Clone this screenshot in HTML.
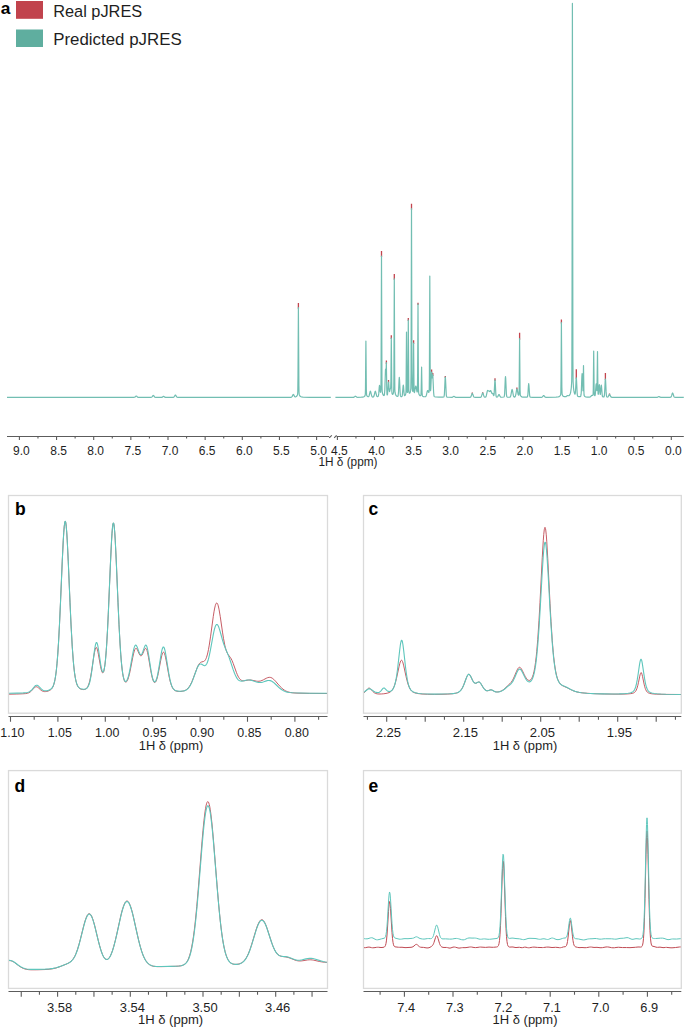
<!DOCTYPE html>
<html><head><meta charset="utf-8"><title>pJRES</title>
<style>html,body{margin:0;padding:0;background:#fff;}svg{display:block;}</style>
</head><body>
<svg width="685" height="1028" viewBox="0 0 685 1028" font-family='"Liberation Sans", sans-serif'><defs><clipPath id="cb"><rect x="9.1" y="496.1" width="317.8" height="216.50000000000006"/></clipPath><clipPath id="cc"><rect x="364.1" y="496.1" width="316.59999999999997" height="216.50000000000006"/></clipPath><clipPath id="cd"><rect x="9.1" y="771.2" width="317.8" height="216.59999999999997"/></clipPath><clipPath id="ce"><rect x="364.1" y="771.2" width="316.59999999999997" height="216.59999999999997"/></clipPath></defs><path d="M298.4,303V308.7 M381.5,251V257 M386.4,360.5V364 M388.5,380V383 M391.3,335.2V339 M394.3,273.9V279.8 M408.3,318V321 M411.5,203.7V209.7 M413.6,340.3V344 M418,302.8V305 M431.6,369.4V373 M432.8,373V376 M445.3,376V378 M472.3,392.6V394.5 M482.7,392.2V394 M495,378.3V381 M516.9,387.4V390 M519.6,332.8V339.7 M561.4,319.4V323.6 M576.3,369.2V378.8 M605.4,372.9V380 M609.5,393.4V395.5" fill="none" stroke="#c4444e" stroke-width="1.3" stroke-linecap="butt"/>
<path d="M7,397.4 133.5,397.39 134.73,397.26 135.31,396.85 135.98,396.13 136.3,396 136.7,396.2 137.55,397.08 138.27,397.35 150.5,397.39 151.73,397.19 152.31,396.62 152.98,395.59 153.3,395.4 153.7,395.69 154.55,396.94 155,397.26 155.5,397.36 161.63,397.36 162.35,397.17 163.2,396.54 163.6,396.4 164,396.54 164.85,397.17 165.5,397.36 172.66,397.38 173.5,397.3 174,397.02 175.08,395.22 175.4,395 175.72,395.22 176.5,396.64 176.97,397.15 178,397.38 288.38,397.35 290.8,397.29 291.5,397.15 292.05,396.64 292.9,394.83 293.3,394.4 293.62,394.64 294.57,396.49 295,396.84 295.78,396.8 296.41,396.46 296.86,396.01 297.43,394.9 297.63,394.07 297.78,391.75 298,375.53 298.4,307.7 298.89,385.42 299.02,391.75 299.17,394.07 299.37,394.9 299.94,396.02 300.5,396.56 301.5,396.97 303.06,397.2 309.5,397.36 330.8,397.38" fill="none" stroke="#72beb2" stroke-width="1.2" stroke-linejoin="round"/>
<path d="M335.4,397.38 353.4,397.32 354.15,397.09 355,396.37 355.4,396.2 355.8,396.36 356.65,397.07 357.3,397.28 361.4,397.22 362.9,397.06 363.9,396.76 364.52,396.32 365.02,395.58 365.2,395.07 365.35,393.63 365.48,388.22 365.9,341 366.34,389.67 366.6,395.05 367,395.94 367.54,396.5 368.08,396.74 368.64,396.62 369.15,395.69 370,392.04 370.2,391.42 370.4,391.2 370.72,391.77 371.4,394.87 371.9,396.43 372.4,396.97 372.82,397.06 373.3,396.96 373.73,396.54 374.05,395.78 374.98,391.77 375.32,391.2 375.64,391.8 376.7,395.99 376.9,396.34 377.27,396.62 377.78,396.6 378.05,396.45 378.41,395.78 378.72,393.9 379.25,387.1 379.5,385.4 379.72,386.24 380.28,391.69 380.48,392.29 380.64,392.1 380.9,389.41 381.06,377.86 381.5,256 381.94,377.9 382.07,388.36 382.2,391.37 382.4,392.76 382.88,394.42 383.5,395.37 383.9,395.57 384.1,395.52 384.46,394.52 384.82,389.66 385.47,370.11 385.6,369 385.7,369.48 385.96,373.27 386.05,372.92 386.35,362.62 386.75,387.89 386.97,394.15 387.1,394.85 387.27,394.97 387.56,394.01 388.3,383.35 388.5,382 388.7,383.07 389.15,389.57 389.41,391.49 389.56,391.62 389.67,391.38 390.24,388.92 390.65,388.04 390.9,381.24 391.3,338 391.84,391.49 392,393.34 392.18,393.96 392.56,394.39 392.88,394.23 393.2,393.66 393.6,391.96 393.8,386.07 393.9,375.08 394.3,278.8 394.7,375.32 394.85,389.2 395,392.22 395.44,394.25 395.7,394.91 396.23,395.71 396.85,396.17 397.5,396.34 397.9,396.2 398.13,395.68 398.52,392.06 399.05,380.07 399.3,377.4 399.55,380.09 400.16,393.25 400.4,395.44 400.6,396.18 400.96,396.53 401.75,396.53 402.1,396.17 402.32,395.39 403.1,386.08 403.3,385 403.5,386.01 403.97,392.33 404.32,395.08 404.53,395.6 404.7,395.68 404.9,395.58 405.4,394.91 405.8,393.77 405.95,392.08 406.12,382.95 406.5,332 406.96,387.82 407.16,392.17 407.38,392.46 407.6,392.03 407.75,390.27 407.9,381.48 408.3,320 408.8,388.65 408.93,391.79 409.18,392.91 409.4,393.19 409.68,393.21 410.12,392.55 410.62,390.38 410.83,388.21 411.04,373.35 411.5,208.7 411.94,371.05 412.2,388.39 412.5,390.55 412.88,391.49 413.05,390.58 413.24,381.88 413.6,343 413.95,381.55 414.15,391.5 414.3,392.54 414.4,392.56 414.55,392.25 415.48,386.84 415.8,386 416.12,386.81 416.94,391.59 417.12,392.02 417.3,391.88 417.4,390.93 417.65,372.19 418,304 418.4,379.73 418.5,388.42 418.7,393.07 419.17,394.71 419.84,395.58 420.18,395.73 420.7,395.61 420.98,394.74 421.2,389.19 421.6,367 421.99,389.11 422.09,392.86 422.33,395.64 422.68,396.16 423.53,396.6 424.84,396.75 425.63,396.57 426.03,396.14 426.35,395.37 427.28,391.24 427.6,390.5 427.74,390.48 427.9,390.67 428.42,392 428.7,392.4 428.94,392.22 429.1,391.52 429.25,388.64 429.4,374.5 429.8,276 430.15,365.12 430.4,389.56 430.5,390.64 430.62,390.46 430.82,388.33 431.4,374.27 431.6,372 431.76,372.65 432.22,377.87 432.38,377.4 432.67,375.01 432.7,374.92 432.8,375 432.83,375.19 433.6,392.01 433.9,395.32 434.13,396.23 434.35,396.54 434.9,396.81 435.87,397.01 438.9,397.2 442.85,397.16 443.7,396.99 443.9,396.81 444.14,396.15 444.4,394.12 445.1,378.82 445.3,377 445.5,378.83 446.28,395 446.53,396.46 446.8,396.94 447.25,397.12 448.98,397.27 451.93,397.3 452.65,397.1 453.5,396.45 453.9,396.3 454.3,396.45 455.15,397.11 455.9,397.32 469.9,397.33 470.44,397.2 470.9,396.75 471.98,393.86 472.3,393.5 472.7,394.06 473.6,396.57 473.9,397.01 474.27,397.24 475.41,397.35 480.34,397.31 480.9,397.13 481.32,396.63 482.38,393.41 482.7,393 483.02,393.4 484.08,396.6 484.56,397.12 485.18,397.22 485.78,396.9 486.25,395.9 487.25,391.29 487.5,390.6 487.75,390.41 488.37,390.81 489,391 489.71,391.62 489.98,391.44 490.46,390.67 490.7,390.6 490.97,391.06 491.69,393.17 491.95,393.39 492.44,393.26 492.67,393.36 493.45,395.17 493.77,395.57 494.02,394.78 494.17,393.42 494.8,381.53 495,380 495.25,382.4 495.78,393.12 495.98,395.33 496.23,396.57 496.4,396.88 496.7,397.06 497.45,396.92 497.9,396.37 498.68,394.75 499,394.5 499.32,394.77 500.25,396.66 500.65,397.07 501.1,397.23 501.9,397.26 503.9,397.01 504.34,396.19 504.63,393.71 505.3,378.4 505.5,376.5 505.7,378.37 506.4,394.06 506.73,396.44 506.9,396.82 507.45,397.11 509.14,397.23 509.9,397.15 510.35,396.81 510.85,395.51 511.7,390.62 511.9,389.8 512.1,389.5 512.42,390.23 513.4,395.67 513.67,396.45 514.07,396.97 514.42,397.08 514.9,396.95 515.4,396.19 515.9,394.06 516.58,389.81 516.9,389 517.22,389.66 518.15,394.55 518.4,395.11 518.72,395.15 518.9,394.79 519,394.06 519.16,389.29 519.6,338.7 520.04,389.38 520.3,394.98 520.7,395.93 521.4,396.64 521.9,396.88 522.9,397.1 526.25,397.21 527.15,397.08 527.4,396.86 527.72,395.76 527.9,394.23 528.45,385.58 528.7,383.7 528.95,385.58 529.56,394.85 529.9,396.68 530.25,397.11 532.9,397.32 541.73,397.29 542.4,396.97 543.3,395.77 543.7,395.5 544.1,395.76 544.95,396.92 545.4,397.21 545.9,397.31 555.96,397.19 557.95,397 559.22,396.62 560.02,395.92 560.52,394.94 560.7,394.25 560.85,392.35 561.05,377.78 561.4,322.6 561.84,387.09 562.1,394.21 562.4,395.18 562.9,395.98 563.58,396.48 564.4,396.7 565.9,396.66 566.4,396.39 567.4,395.54 567.75,395.48 568.75,395.71 569.07,395.58 569.66,394.98 570.2,393.9 570.61,392.51 571.3,387.82 571.7,381.53 571.85,371.48 572.05,294.62 572.4,3.4 572.9,361.63 573.1,381.49 573.5,387.75 573.85,390.65 574.26,392.66 574.58,393.64 574.9,394.15 575.14,393.97 575.32,393.16 575.68,388.28 576.1,379.32 576.3,377.8 576.55,380.45 577.1,392.29 577.3,394.56 577.53,395.78 577.9,396.34 578.9,396.63 580.2,396.61 580.55,396.46 580.76,396.18 581.12,394.19 581.32,391.26 581.85,376.79 582.1,373.5 582.3,375.46 582.95,390.67 583.15,387.04 583.5,365.5 583.9,391.19 584.04,394.68 584.2,395.73 584.88,396.51 585.68,396.85 587.2,397.06 589.4,397.07 590.34,396.85 591.67,395.47 592,395.35 592.6,395.36 592.82,395.25 593,394.97 593.17,393.49 593.3,388.34 593.7,351.1 594.14,390.75 594.3,394.5 594.45,395.22 594.76,395.58 594.91,395.57 595.08,395.31 595.32,394.18 596,385.02 596.2,383.8 596.4,384.74 596.85,390.47 596.9,390.72 596.98,390.42 597.5,351.5 597.85,384.97 598.07,393.74 598.23,394.39 598.52,392.97 599.05,386.03 599.3,384.5 599.5,385.65 600.07,393.37 600.24,394.38 600.32,394.45 600.4,394.29 601.1,386.22 601.3,385.2 601.5,386.29 602.28,395.73 602.53,396.58 602.85,396.88 603.45,396.94 603.9,396.82 604.17,396.42 604.37,395.46 604.62,392.79 605.2,380.63 605.4,379 605.6,380.65 606.1,391.38 606.38,395.19 606.63,396.5 606.9,396.93 607.2,397.05 607.85,396.96 608.25,396.59 609.1,394.89 609.5,394.5 609.82,394.77 610.9,396.87 611.4,397.21 611.98,397.31 656.42,397.38 657.4,397.28 658.9,396.5 659.3,396.63 660.15,397.19 660.9,397.37 670.12,397.35 670.63,397.25 671.16,396.76 671.61,395.68 672.28,393.41 672.6,393 673,393.63 673.9,396.5 674.17,396.95 674.57,397.25 675.71,397.37 683.8,397.39" fill="none" stroke="#72beb2" stroke-width="1.2" stroke-linejoin="round"/>
<rect x="16" y="1" width="27" height="17.8" fill="#c1434d"/>
<rect x="16" y="29.5" width="27" height="17.5" fill="#5fae9f"/>
<text x="0.7" y="13.6" font-size="17.3" font-weight="bold" fill="#000">a</text>
<text x="53.2" y="16.5" font-size="16.9" fill="#1e1e1e" textLength="89.0" lengthAdjust="spacingAndGlyphs">Real pJRES</text>
<text x="53.2" y="44.8" font-size="16.2" fill="#1e1e1e" textLength="128.5" lengthAdjust="spacingAndGlyphs">Predicted pJRES</text>
<path d="M7,436.5H329.2 M336.6,436.5H683.8" stroke="#5c5c5c" stroke-width="1.1" fill="none"/>
<path d="M329.2,437.9L331.8,435.3 M334.2,437.8L336.6,435.3" stroke="#5c5c5c" stroke-width="1.1" fill="none"/>
<path d="M19.4,436.5V440.1 M37.97,436.5V438.5 M56.55,436.5V440.1 M75.12,436.5V438.5 M93.7,436.5V440.1 M112.28,436.5V438.5 M130.85,436.5V440.1 M149.43,436.5V438.5 M168,436.5V440.1 M186.57,436.5V438.5 M205.15,436.5V440.1 M223.72,436.5V438.5 M242.3,436.5V440.1 M260.88,436.5V438.5 M279.45,436.5V440.1 M298.02,436.5V438.5 M316.6,436.5V440.1 M337.4,436.5V440.1 M355.95,436.5V438.5 M374.5,436.5V440.1 M393.05,436.5V438.5 M411.6,436.5V440.1 M430.15,436.5V438.5 M448.7,436.5V440.1 M467.25,436.5V438.5 M485.8,436.5V440.1 M504.35,436.5V438.5 M522.9,436.5V440.1 M541.45,436.5V438.5 M560,436.5V440.1 M578.55,436.5V438.5 M597.1,436.5V440.1 M615.65,436.5V438.5 M634.2,436.5V440.1 M652.75,436.5V438.5 M671.3,436.5V440.1" stroke="#5c5c5c" stroke-width="1.1" fill="none"/>
<text x="21.4" y="454.7" font-size="12" fill="#1e1e1e" text-anchor="middle">9.0</text>
<text x="58.55" y="454.7" font-size="12" fill="#1e1e1e" text-anchor="middle">8.5</text>
<text x="95.7" y="454.7" font-size="12" fill="#1e1e1e" text-anchor="middle">8.0</text>
<text x="132.85" y="454.7" font-size="12" fill="#1e1e1e" text-anchor="middle">7.5</text>
<text x="170" y="454.7" font-size="12" fill="#1e1e1e" text-anchor="middle">7.0</text>
<text x="207.15" y="454.7" font-size="12" fill="#1e1e1e" text-anchor="middle">6.5</text>
<text x="244.3" y="454.7" font-size="12" fill="#1e1e1e" text-anchor="middle">6.0</text>
<text x="281.45" y="454.7" font-size="12" fill="#1e1e1e" text-anchor="middle">5.5</text>
<text x="318.6" y="454.7" font-size="12" fill="#1e1e1e" text-anchor="middle">5.0</text>
<text x="339.4" y="454.7" font-size="12" fill="#1e1e1e" text-anchor="middle">4.5</text>
<text x="376.5" y="454.7" font-size="12" fill="#1e1e1e" text-anchor="middle">4.0</text>
<text x="413.6" y="454.7" font-size="12" fill="#1e1e1e" text-anchor="middle">3.5</text>
<text x="450.7" y="454.7" font-size="12" fill="#1e1e1e" text-anchor="middle">3.0</text>
<text x="487.8" y="454.7" font-size="12" fill="#1e1e1e" text-anchor="middle">2.5</text>
<text x="524.9" y="454.7" font-size="12" fill="#1e1e1e" text-anchor="middle">2.0</text>
<text x="562" y="454.7" font-size="12" fill="#1e1e1e" text-anchor="middle">1.5</text>
<text x="599.1" y="454.7" font-size="12" fill="#1e1e1e" text-anchor="middle">1.0</text>
<text x="636.2" y="454.7" font-size="12" fill="#1e1e1e" text-anchor="middle">0.5</text>
<text x="673.3" y="454.7" font-size="12" fill="#1e1e1e" text-anchor="middle">0.0</text>
<text x="348" y="466.0" font-size="12" fill="#1e1e1e" text-anchor="middle" textLength="59" lengthAdjust="spacingAndGlyphs">1H δ (ppm)</text>
<rect x="8.5" y="495.5" width="319" height="217.7" fill="none" stroke="#dadada" stroke-width="1.3"/><text x="15.1" y="515.2" font-size="17.5" font-weight="bold" fill="#000">b</text>
<rect x="363.5" y="495.5" width="317.8" height="217.7" fill="none" stroke="#dadada" stroke-width="1.3"/><text x="368.6" y="515.4" font-size="17.5" font-weight="bold" fill="#000">c</text>
<rect x="8.5" y="770.6" width="319" height="217.8" fill="none" stroke="#dadada" stroke-width="1.3"/><text x="14.6" y="791.8" font-size="17.5" font-weight="bold" fill="#000">d</text>
<rect x="363.5" y="770.6" width="317.8" height="217.8" fill="none" stroke="#dadada" stroke-width="1.3"/><text x="368.6" y="792.0" font-size="17.5" font-weight="bold" fill="#000">e</text>
<g clip-path="url(#cb)"><path d="M8.5,694.21 16.75,694.03 22.75,693.8 25.5,693.6 27.5,693.25 28.25,693.02 29,692.7 30.25,691.94 31.5,690.84 33.75,688.35 34.5,687.61 35,687.21 35.5,686.92 36.25,686.74 37,686.88 37.75,687.29 38.5,687.9 40.75,689.99 41.75,690.72 42.5,691.12 43.5,691.46 44.5,691.6 45.5,691.58 46.75,691.4 48,691.08 49.25,690.59 50.25,690.04 51.25,689.23 52,688.35 52.5,687.59 53.25,686.05 53.75,684.69 54.5,681.98 55,679.61 55.5,676.68 56,673.12 56.5,668.82 57,663.7 57.75,654.33 58.5,642.8 59.5,624.11 60.5,602.24 62.25,561.2 63.25,540.68 63.75,532.55 64.25,526.39 64.75,522.55 65,521.58 65.25,521.26 65.5,521.6 65.75,522.6 66.25,526.49 66.75,532.69 67.25,540.85 68.25,561.38 70,602.31 71,624.07 72.25,646.69 73.25,660.47 73.75,665.96 74.5,672.61 75.25,677.62 76,681.29 76.75,683.91 77.5,685.75 78,686.66 78.5,687.37 79,687.92 79.75,688.53 80.25,688.83 81,689.16 81.75,689.38 82.5,689.51 83.25,689.57 84,689.54 84.75,689.41 85.25,689.24 85.75,688.99 86.25,688.64 87,687.87 87.75,686.71 88.5,685.05 89.25,682.78 89.75,680.88 90.75,676.11 91.75,670.15 93.75,656.69 94.5,652.33 95.25,649.14 95.75,647.91 96,647.59 96.25,647.49 96.5,647.6 96.75,647.92 97.25,649.13 97.75,651.03 98.5,654.8 100.5,666.29 101.25,669.7 101.75,671.37 102.25,672.45 102.5,672.74 102.75,672.85 103,672.77 103.25,672.49 103.5,672.01 103.75,671.31 104.25,669.22 105,664.26 105.5,659.65 106.25,650.66 106.75,643.26 107.5,630.11 108.25,614.76 110.5,562.2 111.5,541.51 112,533.41 112.5,527.4 112.75,525.31 113,523.86 113.25,523.09 113.5,523.01 113.75,523.61 114,524.9 114.25,526.85 114.75,532.58 115.25,540.47 116.25,560.91 118,602.39 119,624.44 120,643.08 120.75,654.4 121.25,660.67 121.75,665.95 122.25,670.32 122.75,673.86 123.25,676.65 124,679.62 124.5,680.92 124.75,681.38 125.25,681.99 125.5,682.14 125.75,682.19 126,682.16 126.25,682.04 126.75,681.55 127.5,680.24 128,679.01 128.5,677.49 129.25,674.74 130,671.48 132.75,657.37 133.5,653.88 134.25,651.05 134.75,649.66 135,649.14 135.25,648.73 135.5,648.44 135.75,648.28 136,648.23 136.25,648.3 136.75,648.74 137.5,650.02 139,653.46 139.75,654.88 140.25,655.51 140.5,655.7 140.75,655.81 141,655.83 141.25,655.77 141.5,655.61 142,655.05 142.75,653.68 144.25,650.13 144.75,649.16 145.25,648.54 145.5,648.39 145.75,648.37 146,648.5 146.25,648.76 146.5,649.18 147,650.46 147.5,652.29 148.5,657.26 150.75,670.6 151.75,675.67 152.5,678.66 153,680.2 153.5,681.36 154,682.12 154.25,682.36 154.5,682.49 154.75,682.52 155,682.46 155.25,682.3 155.5,682.04 156,681.24 156.75,679.35 157.5,676.71 158.25,673.41 160.75,660.2 161.75,655.64 162.25,653.94 162.75,652.77 163,652.41 163.25,652.2 163.5,652.16 163.75,652.27 164,652.55 164.5,653.57 165,655.15 165.5,657.19 166.25,660.91 168.75,674.81 169.5,678.44 170.25,681.56 170.75,683.35 171.5,685.57 172,686.78 172.75,688.21 173.25,688.95 173.75,689.55 174.25,690.02 175,690.55 175.75,690.9 176.5,691.14 178.25,691.41 179.5,691.45 181,691.4 182.25,691.25 183.25,691.05 184.25,690.76 185.25,690.34 186.25,689.75 187,689.19 188.25,687.94 189.25,686.63 190.25,685.01 191.25,683.07 192,681.41 193,678.96 197,668.17 198,665.91 198.75,664.52 199.25,663.76 199.75,663.14 200.25,662.66 200.75,662.31 201.5,661.98 203.5,661.51 204,661.28 204.5,660.91 205,660.36 205.5,659.62 206,658.63 206.5,657.37 207.25,654.95 207.75,652.95 208.5,649.38 209.25,645.15 210.5,636.86 213.25,616.61 214,611.78 214.5,609 215.25,605.7 215.75,604.17 216.25,603.25 216.5,603.03 216.75,602.97 217,603.07 217.25,603.32 217.75,604.3 218.25,605.87 219,609.18 220.25,616.59 222.5,632.1 223.5,638.43 224.75,645.02 225.25,647.16 226,649.85 226.75,651.94 227.5,653.53 228.25,654.73 230.5,657.7 231.25,658.95 232,660.47 233.25,663.56 236.5,672.65 237.25,674.48 238,676.09 238.75,677.46 239.25,678.23 240,679.17 240.75,679.87 241.75,680.47 242.25,680.64 243,680.78 243.75,680.79 244.5,680.72 248.25,680.06 250,679.99 252,680.22 256.5,681.16 257.75,681.28 259,681.25 260.5,680.98 262,680.47 263.5,679.75 266.25,678.27 267.75,677.63 269,677.35 269.75,677.33 270.25,677.38 271,677.58 272,678.04 272.75,678.54 273.75,679.36 275.5,681.16 278.75,684.96 280.25,686.62 281.75,688.1 283,689.16 284.25,690.07 285.75,690.94 287.25,691.6 288.75,692.1 290.5,692.5 292.5,692.79 295,693.01 298,693.16 309.25,693.39 327.5,693.53" fill="none" stroke="#bf4a53" stroke-width="0.9" stroke-linejoin="round"/><path d="M8.5,693.31 17.25,693.13 23.25,692.92 26,692.71 27,692.55 28,692.31 28.75,692.04 29.5,691.67 30.75,690.78 32,689.54 34.75,686.27 35.25,685.82 35.75,685.47 36.5,685.21 37.25,685.3 37.75,685.53 38.25,685.89 39,686.58 41.25,688.92 42.25,689.74 43,690.19 44,690.58 45,690.76 46,690.77 47.25,690.6 48.5,690.27 49.5,689.88 50.5,689.31 51.25,688.72 52,687.89 52.5,687.15 53.25,685.67 53.75,684.35 54.5,681.71 55,679.38 55.5,676.51 56,673 56.5,668.74 57,663.67 57.75,654.35 58.5,642.86 59.5,624.17 60.5,602.28 62.25,561.17 63.25,540.64 63.75,532.5 64.25,526.35 64.75,522.51 65,521.54 65.25,521.23 65.5,521.57 65.75,522.56 66.25,526.45 66.75,532.64 67.25,540.79 68.25,561.34 70,602.36 71,624.16 72.25,646.78 73.25,660.52 73.75,665.97 74.5,672.57 75.25,677.51 76,681.12 76.75,683.69 77.5,685.48 78,686.36 78.5,687.04 79,687.57 79.75,688.16 80.25,688.44 81,688.76 81.75,688.98 82.75,689.15 83.75,689.21 84.5,689.17 85.25,689.04 85.75,688.87 86.25,688.63 86.75,688.29 87.5,687.51 88.25,686.32 89,684.56 89.5,682.99 90,681.07 91,676.05 92,669.49 94,653.85 94.75,648.58 95.5,644.63 96,643.06 96.25,642.64 96.5,642.48 96.75,642.58 97,642.94 97.25,643.54 97.75,645.41 98.5,649.54 100.75,664.75 101.5,668.65 102,670.51 102.5,671.66 102.75,671.94 103,672.02 103.25,671.88 103.5,671.51 103.75,670.92 104.25,669 104.75,666.07 105,664.21 105.5,659.66 106,653.98 106.75,643.32 107.5,630.17 108.25,614.79 110.5,562.14 111.5,541.46 112,533.38 112.5,527.39 112.75,525.3 113,523.85 113.25,523.09 113.5,523.01 113.75,523.61 114,524.9 114.25,526.84 114.75,532.56 115.25,540.43 116.25,560.86 118,602.39 119,624.47 120,643.11 120.75,654.41 121.25,660.64 121.75,665.89 122.25,670.21 122.75,673.69 123.25,676.41 123.75,678.47 124.25,679.94 124.5,680.47 125,681.19 125.25,681.38 125.5,681.47 125.75,681.46 126,681.36 126.5,680.89 126.75,680.53 127.25,679.56 127.75,678.27 128.25,676.68 129,673.77 130,669.03 132.5,655.1 133.25,651.31 133.75,649.15 134.25,647.39 134.75,646.1 135,645.64 135.25,645.33 135.5,645.14 135.75,645.09 136,645.16 136.5,645.67 137.25,647.17 138.75,651.34 139.5,653.18 140,654.07 140.25,654.38 140.5,654.6 140.75,654.71 141,654.72 141.25,654.63 141.5,654.43 141.75,654.13 142.25,653.24 142.75,652.04 144.25,647.61 144.75,646.34 145.25,645.45 145.5,645.19 145.75,645.07 146,645.11 146.25,645.31 146.5,645.69 146.75,646.23 147.25,647.82 147.75,650.01 148.75,655.72 151,670.31 151.75,674.4 152.5,677.69 153.25,680.08 153.75,681.13 154,681.49 154.25,681.74 154.5,681.88 154.75,681.91 155,681.84 155.25,681.65 155.75,680.96 156.25,679.84 156.75,678.31 157.5,675.31 158.75,668.7 161,654.83 161.5,652.17 162,649.93 162.5,648.25 162.75,647.66 163,647.24 163.25,647.01 163.5,646.97 163.75,647.11 164,647.45 164.25,647.97 164.75,649.52 165.25,651.66 166.25,657.27 168.75,673.2 170,679.65 170.5,681.75 171.25,684.35 171.75,685.76 172.5,687.42 173,688.28 173.5,688.96 174,689.5 174.5,689.93 175,690.25 175.75,690.61 177.25,691 178.5,691.15 180,691.21 181.5,691.17 182.75,691.05 183.75,690.88 184.75,690.6 185.75,690.2 186.5,689.78 187.75,688.82 188.75,687.74 190,685.94 191,684.11 192,681.92 193,679.42 195.75,671.71 196.75,669.07 197.75,666.83 198.25,665.92 198.75,665.18 199.25,664.62 199.75,664.25 200.25,664.05 200.75,664.01 201.25,664.12 201.75,664.33 203.75,665.49 204.5,665.67 205,665.61 205.5,665.36 206,664.9 206.5,664.2 207,663.25 207.5,662.04 208.25,659.72 208.75,657.85 209.5,654.61 210.5,649.62 213.25,634.58 214,631.03 214.5,629 215.25,626.58 215.75,625.45 216.25,624.73 216.5,624.53 216.75,624.44 217,624.45 217.25,624.56 217.5,624.77 218,625.47 218.5,626.49 219,627.79 220,630.98 222.5,640.02 223.75,644.02 225,647.42 227.75,653.87 229,657.09 230.25,660.7 233,669.15 234.5,673.26 235.75,676.1 236.75,677.9 237.25,678.63 238,679.54 238.5,680.02 239.25,680.56 239.75,680.81 240.5,681.05 241.75,681.15 243,680.99 247,680.07 248.5,679.93 249.75,679.99 250.75,680.14 252,680.44 255.75,681.72 257.25,682.16 258.75,682.44 260,682.51 261.25,682.42 262.5,682.18 263.75,681.82 266.5,680.88 267.75,680.57 269,680.46 270.25,680.62 271,680.86 271.75,681.21 273.25,682.2 274.75,683.49 279.25,687.8 280.75,689.03 282.25,690.06 283.75,690.89 285.5,691.6 287.25,692.1 289.25,692.47 293,692.81 299,693.02 310.5,693.18 327.5,693.3" fill="none" stroke="#5ec6bc" stroke-width="1.1" stroke-linejoin="round"/></g>
<g clip-path="url(#cc)"><path d="M363.5,693.26 364.25,692.69 365,691.98 367.75,688.78 368.5,688.23 369,688.09 369.5,688.17 370.25,688.63 371,689.39 373,691.66 374.25,692.72 375,693.18 375.75,693.5 377.25,693.87 379,694 381.25,693.97 383.75,693.77 386,693.45 387.75,693.05 389,692.6 390,692.09 391,691.35 392,690.28 393,688.77 394,686.68 394.75,684.67 395.5,682.24 396.5,678.36 399,666.81 399.75,663.7 400.25,662.05 400.75,660.88 401,660.5 401.25,660.27 401.5,660.21 401.75,660.3 402,660.55 402.25,660.95 402.5,661.49 403,662.96 403.75,665.88 406,676.35 407,680.52 408.25,684.75 408.75,686.12 409.5,687.84 410.25,689.21 411,690.28 411.75,691.09 412.75,691.89 413.75,692.44 415,692.91 416.25,693.24 418,693.56 422,693.99 427.5,694.26 434.5,694.36 442,694.28 447.75,694.08 452.25,693.75 455.25,693.33 456.5,693.04 457.5,692.7 458.75,692.08 459.75,691.35 460.75,690.32 461.75,688.93 462.75,687.12 463.75,684.88 466.25,678.18 467,676.37 467.5,675.4 468,674.7 468.5,674.33 468.75,674.27 469,674.3 469.25,674.41 469.5,674.61 470,675.22 470.75,676.53 472.75,680.64 473.5,681.85 474.25,682.71 475,683.18 475.75,683.26 476.5,683.03 478.25,682.09 478.75,681.98 479,681.99 479.5,682.17 480,682.56 480.75,683.48 483,687.2 484,688.65 485,689.75 485.75,690.31 486.5,690.64 487,690.74 487.5,690.75 488.5,690.54 490.25,689.9 491,689.83 491.5,689.92 492,690.11 494.5,691.44 495.75,691.82 496.5,691.92 497.5,691.93 498.5,691.82 499.5,691.61 500.75,691.21 501.75,690.75 502.75,690.17 503.75,689.45 505,688.37 507.5,685.91 509.75,683.84 511,682.5 512.25,680.71 513.25,678.89 514.5,676.16 516.5,671.35 517.5,669.26 518,668.43 518.5,667.81 519,667.41 519.5,667.27 520,667.38 520.5,667.73 521,668.3 521.5,669.04 522.25,670.41 524.25,674.6 525.25,676.54 526.25,678.17 527,679.13 527.5,679.64 528,680.02 528.5,680.28 529,680.41 529.5,680.41 530,680.26 530.75,679.73 531.25,679.15 531.75,678.37 532.5,676.77 533.25,674.54 534,671.55 534.75,667.64 535.5,662.64 536.25,656.36 536.75,651.38 537.75,639.38 539,620.41 540,602.35 542.25,557.7 543.25,540.75 543.75,534.35 544.25,529.84 544.5,528.41 544.75,527.55 545,527.29 545.25,527.64 545.5,528.58 545.75,530.1 546.25,534.76 546.75,541.3 547.75,558.45 550,603.32 551,621.42 552.25,640.43 553.25,652.49 553.75,657.5 554.5,663.86 555.25,668.96 556,673.01 556.75,676.18 557.25,677.89 557.75,679.33 558.75,681.56 559.25,682.43 560,683.48 560.5,684.05 561.25,684.75 562,685.31 562.75,685.77 563.75,686.27 567.25,687.79 570.75,689.62 572.5,690.46 574.25,691.16 576.25,691.79 578.25,692.25 580.5,692.62 584.75,693.1 590.25,693.49 597,693.79 604.75,694.01 614,694.13 622,694.11 627.25,693.95 630.75,693.64 632.75,693.25 633.5,692.99 634.25,692.6 634.75,692.23 635.25,691.73 635.75,691.05 636.25,690.14 637,688.26 637.75,685.64 638.5,682.33 639.75,676.17 640.25,674.14 640.5,673.39 640.75,672.87 641,672.62 641.25,672.64 641.5,672.95 642,674.31 642.5,676.39 644.25,684.83 644.75,686.79 645.25,688.42 645.75,689.73 646.5,691.17 647.25,692.1 647.75,692.52 648.25,692.84 649.5,693.33 651,693.66 653.25,693.94 656.25,694.15 665,694.39 681.25,694.5" fill="none" stroke="#bf4a53" stroke-width="0.9" stroke-linejoin="round"/><path d="M363.5,692.43 364.5,691.75 367.5,689.47 368.25,689.07 369,688.86 369.75,688.87 370.5,689.09 371.5,689.64 373.75,691.19 375,691.91 376.25,692.4 377.5,692.6 378.25,692.55 378.75,692.43 379.25,692.22 379.75,691.92 380.75,691.04 382.75,688.64 383.25,688.21 383.75,687.99 384.25,688.04 384.75,688.33 386.75,690.32 387.5,690.9 388,691.17 388.75,691.4 389.25,691.44 389.75,691.4 390.5,691.19 391,690.96 392,690.23 392.75,689.37 393.25,688.6 393.75,687.62 394.5,685.68 395.25,683.01 396,679.48 396.75,674.97 397.5,669.48 399.75,649.63 400.25,645.71 400.75,642.63 401,641.51 401.25,640.72 401.5,640.29 401.75,640.23 402,640.54 402.25,641.23 402.5,642.25 403,645.17 403.75,651.12 405.5,666.84 406.25,672.74 407.25,679.13 407.75,681.67 408.25,683.8 408.75,685.56 409.5,687.6 410,688.64 410.75,689.82 411.5,690.66 412.5,691.44 413.5,691.98 414.75,692.46 416.25,692.87 417.75,693.17 419.75,693.46 422,693.69 427.5,694 434.5,694.13 443,694.06 449.75,693.79 452.25,693.6 454.25,693.37 456,693.05 457.25,692.71 458.5,692.17 459.75,691.33 460.75,690.34 461.75,688.98 462.75,687.2 463.75,684.97 466.25,678.23 467,676.4 467.5,675.41 468,674.71 468.5,674.33 468.75,674.27 469,674.3 469.25,674.42 469.5,674.62 470,675.24 470.75,676.58 472.75,680.71 473.5,681.91 474,682.51 474.75,683.09 475,683.19 475.5,683.27 476.25,683.11 478.25,682.08 478.75,681.99 479,682.01 479.5,682.2 480,682.6 480.75,683.52 483,687.21 484,688.64 485,689.73 485.75,690.29 486.5,690.63 487,690.73 487.5,690.74 488.5,690.54 490.25,689.9 491,689.83 491.5,689.91 492,690.1 494.25,691.34 495,691.64 495.75,691.85 496.5,691.97 497.5,692 498.5,691.91 499.5,691.73 500.5,691.44 501.5,691.06 502.5,690.55 503.5,689.92 504.75,688.98 507.75,686.43 510,684.72 511.25,683.53 512.5,681.87 513.5,680.13 514.75,677.5 516.75,672.83 517.75,670.82 518.25,670.04 518.75,669.47 519.25,669.13 519.5,669.06 520,669.11 520.5,669.41 521,669.94 521.5,670.65 522.25,671.98 524.25,676.11 525.25,678.02 526.25,679.62 527,680.57 527.5,681.06 528,681.44 528.5,681.7 529,681.84 529.5,681.85 530,681.72 530.75,681.26 531.25,680.74 531.75,680.05 532.5,678.61 533.25,676.62 534,673.94 534.75,670.45 535.5,665.99 536.25,660.39 536.75,655.95 537.75,645.24 539,628.29 540.25,607.76 542.25,571.69 543.25,555.96 543.75,549.82 544.25,545.32 544.5,543.77 544.75,542.73 545,542.22 545.25,542.25 545.5,542.82 545.75,543.91 546,545.51 546.5,550.11 547,556.34 548,572.2 550,608.41 551,625.11 552.25,642.86 552.75,648.86 553.5,656.68 554,661.13 554.75,666.76 555.5,671.28 556.25,674.84 557,677.61 557.5,679.1 558,680.34 559,682.26 560,683.6 561,684.54 562.25,685.36 563.25,685.84 566.75,687.3 571.25,689.68 573.25,690.62 575,691.3 577,691.89 579,692.33 581.5,692.72 586.75,693.23 594,693.62 602.75,693.88 612.25,693.97 619.25,693.9 624.25,693.7 628,693.32 629.5,693.06 630.75,692.74 631.75,692.37 632.5,691.96 633.25,691.37 633.75,690.83 634.25,690.12 634.75,689.19 635.25,688 635.75,686.5 636.5,683.54 637.25,679.69 638,675.01 639.5,664.69 640,661.87 640.5,659.95 640.75,659.43 641,659.25 641.25,659.41 641.5,659.91 641.75,660.71 642.25,663.1 644.5,678.14 645.25,682.31 645.75,684.6 646.5,687.29 647.25,689.22 648,690.54 648.5,691.17 649,691.66 649.5,692.03 650.25,692.45 651.75,692.99 654,693.45 657,693.81 660.75,694.06 665.75,694.24 681.25,694.45" fill="none" stroke="#5ec6bc" stroke-width="1.1" stroke-linejoin="round"/></g>
<g clip-path="url(#cd)"><path d="M8.5,960.67 9.5,960.58 10.5,960.66 11.5,960.91 12.75,961.45 13.75,962.02 14.75,962.69 18.5,965.55 20.25,966.77 22,967.79 23.5,968.47 25,968.99 26.75,969.39 28.75,969.66 31,969.8 36.5,969.8 45,969.54 49.25,969.24 52.75,968.75 56,968 59.25,966.93 66,964.22 67.75,963.42 69,962.75 70,962.11 71,961.32 72,960.34 72.75,959.45 73.75,958.01 74.5,956.72 75.25,955.21 76,953.49 77.5,949.37 79,944.38 80.25,939.67 83.75,925.64 84.75,922.03 85.5,919.63 86.5,916.96 87,915.89 87.5,915.02 88,914.36 88.5,913.92 89,913.69 89.25,913.67 89.5,913.7 90,913.93 90.5,914.39 91,915.07 91.5,915.96 92,917.05 93,919.78 93.75,922.24 94.75,925.94 98.25,940.46 99.5,945.35 101,950.47 102.25,953.95 103,955.65 103.75,957.05 104.5,958.13 105,958.67 105.5,959.08 106.25,959.43 107,959.47 107.75,959.19 108.25,958.84 108.75,958.36 109.25,957.74 110,956.56 110.5,955.61 111.25,953.95 112.5,950.57 113.75,946.46 115.25,940.68 116.75,934.2 120.5,917.1 121.5,912.95 122.5,909.24 123.75,905.41 124.75,903.13 125.5,901.94 126,901.41 126.5,901.09 127,900.99 127.5,901.11 128,901.45 128.5,902.01 129.25,903.23 130.25,905.54 131.5,909.39 132.5,913.12 133.5,917.26 137.25,934.27 138.75,940.72 140.25,946.52 141.75,951.51 143,955 143.75,956.8 144.5,958.4 145.25,959.79 146,961 146.75,962.05 147.5,962.93 148.25,963.68 149.25,964.48 150.25,965.11 151.5,965.68 152.75,966.07 154,966.33 155.5,966.51 157.5,966.63 161.25,966.65 169,966.48 175.5,966.29 178.75,966.09 180.75,965.82 182.25,965.45 183.5,964.94 184.75,964.15 185.5,963.5 186.25,962.67 187,961.62 187.5,960.78 188.25,959.27 188.75,958.08 189.75,955.18 190.75,951.48 191.75,946.85 192.75,941.16 193.5,936.15 194.25,930.46 195,924.09 195.75,917.03 196.75,906.62 198.5,886.06 202,841.76 203,830.28 204,820.19 205,811.95 205.5,808.64 206,805.93 206.5,803.86 207,802.44 207.25,801.98 207.5,801.7 207.75,801.58 208,801.64 208.25,801.86 208.75,802.83 209.25,804.46 209.75,806.74 210.25,809.64 210.75,813.13 211.75,821.69 212.5,829.29 213.5,840.64 217,884.74 218.5,902.53 219.5,913.23 220.25,920.53 221,927.16 221.75,933.11 222.5,938.37 223.25,942.97 224,946.94 225,951.35 225.75,954.05 226.75,956.95 227.75,959.17 228.25,960.06 229,961.17 229.75,962.05 230.5,962.73 231.25,963.25 232.25,963.75 233.25,964.07 234.25,964.26 235.5,964.35 236.75,964.32 238,964.16 239.25,963.86 240.25,963.52 241.25,963.05 242.25,962.43 243,961.86 244,960.91 244.75,960.05 246,958.28 247.25,956.06 248.25,953.94 249.5,950.84 250.5,948.03 251.75,944.16 256,929.95 257,926.96 258,924.36 259,922.25 259.5,921.41 260,920.73 260.5,920.21 261,919.85 261.5,919.68 261.75,919.65 262,919.67 262.5,919.85 263,920.19 263.5,920.7 264,921.37 264.5,922.19 265.5,924.25 266.25,926.1 267.25,928.89 270.75,939.84 272,943.54 273.25,946.83 274.25,949.11 275.25,951.05 276.5,952.98 277.75,954.39 279,955.36 280.25,955.98 281.5,956.35 285.75,956.93 288,957.43 290,958.1 295,960.1 296.5,960.55 298,960.85 299.5,960.97 301.25,960.92 303,960.71 307.75,959.92 309.25,959.8 310.75,959.81 312.25,959.94 313.75,960.18 319.25,961.44 321.75,961.9 324.5,962.22 327.5,962.36" fill="none" stroke="#bf4a53" stroke-width="0.9" stroke-linejoin="round"/><path d="M8.5,960.47 9.5,960.37 10.5,960.45 11.5,960.7 12.75,961.23 13.75,961.8 14.75,962.47 18.5,965.29 20,966.33 21.75,967.36 23.25,968.05 24.75,968.57 26.5,968.98 28.5,969.26 30.75,969.4 36.25,969.41 45.25,969.16 49.5,968.87 53,968.4 56.25,967.67 59.5,966.64 66.5,963.96 68,963.3 69.25,962.65 70.25,962.01 71.25,961.21 72.25,960.21 73,959.3 73.75,958.22 74.5,956.95 75.25,955.48 76,953.78 77.5,949.72 79,944.78 80.5,939.12 83.75,926.12 84.75,922.52 85.5,920.12 86.5,917.44 87,916.37 87.5,915.49 88,914.82 88.5,914.37 89,914.13 89.25,914.1 89.5,914.13 90,914.35 90.5,914.8 91,915.46 91.5,916.34 92,917.42 93,920.11 93.75,922.55 94.75,926.22 98.25,940.62 99.5,945.46 101,950.54 102.25,953.98 103,955.67 103.75,957.05 104.5,958.12 105,958.67 105.5,959.07 106.25,959.42 107,959.47 107.75,959.21 108.25,958.86 108.75,958.39 109.25,957.78 110,956.63 110.5,955.7 111.25,954.07 112.5,950.74 113.75,946.69 115.25,940.98 116.75,934.57 120.5,917.6 121.5,913.47 122.5,909.76 123.75,905.94 124.75,903.65 125.5,902.46 126,901.92 126.5,901.59 127,901.49 127.5,901.6 128,901.93 128.5,902.47 129.25,903.67 130.25,905.96 131.5,909.78 132.5,913.47 133.5,917.59 137.25,934.47 138.75,940.87 140.25,946.63 141.75,951.57 143,955.02 143.75,956.8 144.5,958.38 145.25,959.76 146,960.95 146.75,961.98 147.5,962.85 148.25,963.59 149.25,964.38 150.25,964.99 151.5,965.56 152.75,965.94 154,966.19 155.5,966.38 157.5,966.49 161.5,966.51 169.5,966.35 175.75,966.18 179,965.99 181,965.73 182.5,965.36 183.75,964.86 185,964.09 185.75,963.44 186.25,962.91 187,961.95 187.5,961.18 188.25,959.79 188.75,958.69 189.75,956 190.75,952.54 191.75,948.2 192.75,942.84 193.5,938.1 194.5,930.74 195.25,924.44 196,917.48 197,907.21 198.5,890.01 202.25,843.69 203.25,832.58 204,825.15 205,816.81 205.5,813.42 206,810.61 206.5,808.41 207,806.86 207.25,806.32 207.5,805.96 207.75,805.76 208,805.73 208.25,805.87 208.5,806.18 208.75,806.65 209.25,808.1 209.75,810.18 210.25,812.88 210.75,816.17 211.75,824.33 212.5,831.64 213.5,842.62 217.25,888.74 218.75,905.95 220.25,920.98 221,927.54 221.75,933.41 222.5,938.62 223.25,943.18 224,947.12 225,951.48 225.75,954.16 226.75,957.03 227.75,959.23 228.25,960.12 229,961.22 229.75,962.09 230.5,962.77 231.25,963.29 232.25,963.78 233.25,964.1 234.25,964.29 235.5,964.38 236.75,964.35 238,964.2 239.25,963.92 240.5,963.48 241.5,963 242.5,962.36 243.25,961.76 244.25,960.79 245,959.9 246.25,958.1 247.5,955.84 248.5,953.69 249.75,950.57 251.75,944.68 256,930.65 257,927.68 258,925.08 259,922.96 259.5,922.11 260,921.41 260.5,920.87 261,920.5 261.5,920.3 261.75,920.27 262,920.27 262.5,920.42 263.25,920.95 264,921.85 265,923.57 266,925.81 267,928.46 271.5,942.22 272.75,945.67 273.75,948.1 275,950.66 276.25,952.68 277.5,954.17 278,954.62 278.75,955.18 280,955.82 281.25,956.18 282.5,956.36 285.75,956.64 288,957.08 290,957.73 294.5,959.47 295.75,959.84 297,960.09 298.75,960.23 300.5,960.13 302.25,959.83 306,958.89 307.75,958.53 309.5,958.33 311.25,958.33 313,958.54 314.75,958.94 320.75,960.87 323,961.49 325.25,961.95 327.5,962.25" fill="none" stroke="#5ec6bc" stroke-width="1.1" stroke-linejoin="round"/></g>
<g clip-path="url(#ce)"><path d="M363.5,947.74 365.5,947.65 368,947.14 369,947.08 370,947.23 371.5,947.63 372.5,947.78 374,947.72 376.5,947.34 377.5,947.25 378.5,947.26 381,947.5 382,947.48 383,947.36 384,947.14 384.5,946.89 385,946.38 385.5,945.36 386,943.44 386.5,940.12 387,935.01 387.5,928.04 388.5,911.36 389,904.71 389.5,901.59 390,902.96 390.5,908.41 392,932.51 392.5,938.39 393,942.37 393.5,944.75 394,946.01 394.5,946.6 395,946.84 398.5,947.26 399.5,947.31 402,947.26 405,947.61 406,947.61 411,947.31 412,947.13 413,946.73 414,945.99 415.5,944.64 416,944.39 416.5,944.36 417,944.56 417.5,944.94 419,946.41 419.5,946.78 420,947.03 420.5,947.19 421,947.27 423.5,947.4 426,947.82 427,947.93 428,947.91 429,947.71 430,947.3 431.5,946.4 432,946 432.5,945.47 433,944.74 433.5,943.74 434,942.44 435.5,937.57 436,936.33 436.5,935.71 437,935.88 437.5,936.8 438,938.29 439.5,943.44 440,944.73 440.5,945.68 441,946.34 441.5,946.77 442,947.06 443,947.35 444,947.46 446.5,947.45 447.5,947.62 449,948.02 450,948.1 451,947.86 453,947.13 454,947.02 454.5,947.05 455.5,947.22 458,947.95 459,948.09 460,948.02 461.5,947.74 462.5,947.63 465,947.67 466,947.61 469.5,947.05 470.5,946.97 471.5,947.02 474,947.51 475.5,947.61 477,947.49 479.5,947.12 480.5,947.06 485.5,947.4 489,947.09 492,947.27 493.5,947.27 496.5,947.01 497,946.9 497.5,946.7 498,946.29 498.5,945.44 499,943.71 499.5,940.43 500,934.72 500.5,925.76 501,913.26 502,881.98 502.5,868.54 503,861.15 503.5,862.08 504,871.05 505.5,916.44 506,928.26 506.5,936.5 507,941.61 507.5,944.47 508,945.92 508.5,946.61 509,946.92 509.5,947.05 510,947.08 512,946.97 513,947 515,947.43 516,947.57 519,947.25 519.5,947.29 521,947.6 522,947.69 522.5,947.63 524.5,947.16 525,947.12 526,947.24 527.5,947.63 528.5,947.77 529.5,947.71 532.5,947.2 534,947.09 537.5,947.41 542.5,947.57 543.5,947.51 546.5,947.12 548,947.07 549,947.14 552,947.52 555.5,947.3 557,947.39 559.5,947.69 560.5,947.69 561.5,947.51 563.5,946.9 565,946.71 565.5,946.59 566,946.26 566.5,945.5 567,944.02 567.5,941.54 568,937.91 569.5,923.77 570,920.95 570.5,920.63 571,922.91 571.5,927.08 572.5,936.76 573,940.61 573.5,943.35 574,945.07 574.5,946.05 575,946.56 575.5,946.83 577.5,947.36 579,947.62 580,947.62 582,947.51 585,947.72 586.5,947.61 589.5,947.1 590.5,947.02 591.5,947.07 594,947.44 597,947.34 600,947.71 601,947.74 602.5,947.61 606,946.98 607.5,946.94 609,947.11 611.5,947.66 613,947.81 614.5,947.73 617,947.36 618.5,947.26 622.5,947.55 626.5,947.56 630,947.66 635.5,947.28 638,947.01 639,946.99 640.5,947.08 641,947.03 641.5,946.85 642,946.37 642.5,945.26 643,942.94 643.5,938.38 644,930.22 644.5,917.15 645,898.76 646,854.16 646.5,837.18 647,830.86 647.5,837.49 648,854.73 649,899.55 649.5,917.86 650,930.75 650.5,938.66 651,942.93 651.5,944.98 652,945.86 652.5,946.21 654,946.51 656,947.11 657,947.32 657.5,947.33 660,947.13 663,947.64 664,947.62 665.5,947.42 666.5,947.37 670,947.75 672,947.82 675.5,947.52 679.5,946.99 680.5,946.96 681,947.02" fill="none" stroke="#bf4a53" stroke-width="1.0" stroke-linejoin="round"/><path d="M363.5,938.59 365.5,938.8 367,938.83 368,938.68 370.5,937.87 371.5,937.72 372,937.75 373,938.08 375,939.19 376,939.63 376.5,939.76 377.5,939.81 379,939.55 381.5,938.85 384,938.27 384.5,938.04 385,937.57 385.5,936.59 386,934.67 386.5,931.34 387,926.17 387.5,919.07 388.5,902.02 389,895.2 389.5,891.97 390,893.36 390.5,898.9 392,923.42 392.5,929.38 393,933.4 393.5,935.82 394,937.13 394.5,937.76 395,938.06 399,939.08 400,939.21 400.5,939.21 401.5,939.11 404,938.68 405,938.63 408,938.69 412.5,938.31 413.5,938.06 414,937.85 415.5,937.01 416,936.83 416.5,936.78 417,936.88 417.5,937.11 419,938.04 420,938.48 421,938.76 422.5,939.01 424,939.08 425,938.98 427.5,938.57 428.5,938.54 430.5,938.66 431,938.62 431.5,938.47 432,938.16 432.5,937.59 433,936.69 433.5,935.4 434,933.71 435.5,927.47 436,925.9 436.5,925.11 437,925.28 437.5,926.4 438,928.21 439.5,934.58 440,936.18 440.5,937.34 441,938.1 441.5,938.56 442,938.8 443,938.91 445.5,938.85 449.5,939.1 451,939.12 452.5,938.97 455,938.5 456.5,938.43 457.5,938.55 458.5,938.78 461.5,939.67 463,939.89 464,939.8 464.5,939.66 467.5,938.3 468,938.13 469,937.97 470,937.96 472,938.09 474.5,938.06 475.5,938.11 476.5,938.29 479,939.05 480,939.23 480.5,939.25 481.5,939.19 483.5,938.92 484.5,938.89 488,939.28 489.5,939.28 491,939.15 496,938.55 497,938.38 497.5,938.21 498,937.84 498.5,937.05 499,935.4 499.5,932.23 500,926.66 500.5,917.88 501,905.61 502,874.84 502.5,861.6 503,854.28 503.5,855.13 504,863.87 505.5,908.41 506,920.05 506.5,928.19 507,933.25 507.5,936.08 508,937.51 508.5,938.14 509,938.37 509.5,938.41 512,938.09 513,938.11 516,938.56 519.5,938.84 522.5,939.52 523.5,939.65 524,939.65 525,939.48 528,938.51 529,938.35 530,938.31 535,938.49 536,938.62 538.5,939.17 539.5,939.3 540.5,939.27 543,938.8 544,938.77 545,938.94 546.5,939.35 547.5,939.5 548,939.47 548.5,939.36 551,938.26 551.5,938.1 552,938.02 552.5,938.04 553.5,938.3 556,939.37 557,939.59 558,939.64 559,939.53 560,939.3 562.5,938.45 563.5,938.18 565.5,937.9 566,937.64 566.5,937.05 567,935.92 567.5,934.04 568,931.26 569.5,920.45 570,918.34 570.5,918.18 571,920.04 571.5,923.37 572.5,931.02 573,934.04 573.5,936.16 574,937.48 574.5,938.19 575,938.53 575.5,938.67 578.5,938.97 582,939.75 583.5,939.94 584,939.93 585,939.78 587.5,939.1 588.5,938.91 589.5,938.82 592,938.75 595,938.51 596.5,938.58 599,939.06 600,939.17 601.5,939.11 604,938.79 605.5,938.74 611.5,938.79 614.5,939.12 616,939.16 617,939.02 620,938.37 623.5,938.21 626,937.76 627,937.64 628,937.72 628.5,937.86 631,939.01 632,939.3 633,939.3 635,938.85 636,938.69 637,938.71 639.5,939.02 640.5,938.91 641,938.74 641.5,938.44 642,937.87 642.5,936.74 643,934.39 643.5,929.75 644,921.38 644.5,907.89 645,888.82 646,842.35 646.5,824.56 647,817.83 647.5,824.55 648,842.33 649,888.8 649.5,907.86 650,921.33 650.5,929.67 651,934.25 651.5,936.54 652,937.61 652.5,938.1 653,938.33 653.5,938.45 654.5,938.54 655.5,938.53 660.5,938.13 662.5,938.14 664,938.4 667,939.44 668,939.63 669,939.6 671.5,939.09 672.5,938.96 676.5,939.05 681,938.65" fill="none" stroke="#5ec6bc" stroke-width="1.0" stroke-linejoin="round"/></g>
<path d="M8.5,716.5H327.5" stroke="#5c5c5c" stroke-width="1.1" fill="none"/>
<path d="M10.5,716.5V721.7 M34.2,716.5V719.7 M57.9,716.5V721.7 M81.6,716.5V719.7 M105.3,716.5V721.7 M129,716.5V719.7 M152.7,716.5V721.7 M176.4,716.5V719.7 M200.1,716.5V721.7 M223.8,716.5V719.7 M247.5,716.5V721.7 M271.2,716.5V719.7 M294.9,716.5V721.7 M318.6,716.5V719.7" stroke="#5c5c5c" stroke-width="1.1" fill="none"/>
<text x="12.4" y="737.3" font-size="12.6" fill="#1e1e1e" text-anchor="middle" textLength="24.2" lengthAdjust="spacingAndGlyphs">1.10</text>
<text x="59.8" y="737.3" font-size="12.6" fill="#1e1e1e" text-anchor="middle" textLength="24.2" lengthAdjust="spacingAndGlyphs">1.05</text>
<text x="107.2" y="737.3" font-size="12.6" fill="#1e1e1e" text-anchor="middle" textLength="24.2" lengthAdjust="spacingAndGlyphs">1.00</text>
<text x="154.6" y="737.3" font-size="12.6" fill="#1e1e1e" text-anchor="middle" textLength="24.2" lengthAdjust="spacingAndGlyphs">0.95</text>
<text x="202" y="737.3" font-size="12.6" fill="#1e1e1e" text-anchor="middle" textLength="24.2" lengthAdjust="spacingAndGlyphs">0.90</text>
<text x="249.4" y="737.3" font-size="12.6" fill="#1e1e1e" text-anchor="middle" textLength="24.2" lengthAdjust="spacingAndGlyphs">0.85</text>
<text x="296.8" y="737.3" font-size="12.6" fill="#1e1e1e" text-anchor="middle" textLength="24.2" lengthAdjust="spacingAndGlyphs">0.80</text>
<text x="171" y="750.2" font-size="12.6" fill="#1e1e1e" text-anchor="middle" textLength="64.5" lengthAdjust="spacingAndGlyphs">1H δ (ppm)</text>
<path d="M363.5,716.5H681.3" stroke="#5c5c5c" stroke-width="1.1" fill="none"/>
<path d="M367.45,716.5V719.7 M386.7,716.5V721.7 M405.95,716.5V719.7 M425.2,716.5V721.7 M444.45,716.5V719.7 M463.7,716.5V721.7 M482.95,716.5V719.7 M502.2,716.5V721.7 M521.45,716.5V719.7 M540.7,716.5V721.7 M559.95,716.5V719.7 M579.2,716.5V721.7 M598.45,716.5V719.7 M617.7,716.5V721.7 M636.95,716.5V719.7 M656.2,716.5V721.7 M675.45,716.5V719.7" stroke="#5c5c5c" stroke-width="1.1" fill="none"/>
<text x="388.4" y="737.0" font-size="12.6" fill="#1e1e1e" text-anchor="middle" textLength="25.4" lengthAdjust="spacingAndGlyphs">2.25</text>
<text x="465.4" y="737.0" font-size="12.6" fill="#1e1e1e" text-anchor="middle" textLength="25.4" lengthAdjust="spacingAndGlyphs">2.15</text>
<text x="542.4" y="737.0" font-size="12.6" fill="#1e1e1e" text-anchor="middle" textLength="25.4" lengthAdjust="spacingAndGlyphs">2.05</text>
<text x="619.4" y="737.0" font-size="12.6" fill="#1e1e1e" text-anchor="middle" textLength="25.4" lengthAdjust="spacingAndGlyphs">1.95</text>
<text x="525" y="750.2" font-size="12.6" fill="#1e1e1e" text-anchor="middle" textLength="64.5" lengthAdjust="spacingAndGlyphs">1H δ (ppm)</text>
<path d="M8.5,991.5H327.5" stroke="#5c5c5c" stroke-width="1.1" fill="none"/>
<path d="M21.25,991.5V996.7 M39.43,991.5V994.7 M57.6,991.5V996.7 M75.78,991.5V994.7 M93.95,991.5V996.7 M112.13,991.5V994.7 M130.3,991.5V996.7 M148.48,991.5V994.7 M166.65,991.5V996.7 M184.83,991.5V994.7 M203,991.5V996.7 M221.18,991.5V994.7 M239.35,991.5V996.7 M257.53,991.5V994.7 M275.7,991.5V996.7 M293.88,991.5V994.7 M312.05,991.5V996.7" stroke="#5c5c5c" stroke-width="1.1" fill="none"/>
<text x="59.6" y="1012.2" font-size="12.6" fill="#1e1e1e" text-anchor="middle" textLength="25.2" lengthAdjust="spacingAndGlyphs">3.58</text>
<text x="132.3" y="1012.2" font-size="12.6" fill="#1e1e1e" text-anchor="middle" textLength="25.2" lengthAdjust="spacingAndGlyphs">3.54</text>
<text x="205" y="1012.2" font-size="12.6" fill="#1e1e1e" text-anchor="middle" textLength="25.2" lengthAdjust="spacingAndGlyphs">3.50</text>
<text x="277.7" y="1012.2" font-size="12.6" fill="#1e1e1e" text-anchor="middle" textLength="25.2" lengthAdjust="spacingAndGlyphs">3.46</text>
<text x="170.5" y="1024.3" font-size="12.6" fill="#1e1e1e" text-anchor="middle" textLength="65.2" lengthAdjust="spacingAndGlyphs">1H δ (ppm)</text>
<path d="M363.5,991.5H681.3" stroke="#5c5c5c" stroke-width="1.1" fill="none"/>
<path d="M380.1,991.5V994.7 M404.4,991.5V996.7 M428.7,991.5V994.7 M453,991.5V996.7 M477.3,991.5V994.7 M501.6,991.5V996.7 M525.9,991.5V994.7 M550.2,991.5V996.7 M574.5,991.5V994.7 M598.8,991.5V996.7 M623.1,991.5V994.7 M647.4,991.5V996.7 M671.7,991.5V994.7" stroke="#5c5c5c" stroke-width="1.1" fill="none"/>
<text x="406.2" y="1012.2" font-size="12.6" fill="#1e1e1e" text-anchor="middle" textLength="17.8" lengthAdjust="spacingAndGlyphs">7.4</text>
<text x="454.8" y="1012.2" font-size="12.6" fill="#1e1e1e" text-anchor="middle" textLength="17.8" lengthAdjust="spacingAndGlyphs">7.3</text>
<text x="503.4" y="1012.2" font-size="12.6" fill="#1e1e1e" text-anchor="middle" textLength="17.8" lengthAdjust="spacingAndGlyphs">7.2</text>
<text x="552" y="1012.2" font-size="12.6" fill="#1e1e1e" text-anchor="middle" textLength="17.8" lengthAdjust="spacingAndGlyphs">7.1</text>
<text x="600.6" y="1012.2" font-size="12.6" fill="#1e1e1e" text-anchor="middle" textLength="17.8" lengthAdjust="spacingAndGlyphs">7.0</text>
<text x="649.2" y="1012.2" font-size="12.6" fill="#1e1e1e" text-anchor="middle" textLength="17.8" lengthAdjust="spacingAndGlyphs">6.9</text>
<text x="525" y="1024.3" font-size="12.6" fill="#1e1e1e" text-anchor="middle" textLength="65" lengthAdjust="spacingAndGlyphs">1H δ (ppm)</text></svg>
</body></html>
